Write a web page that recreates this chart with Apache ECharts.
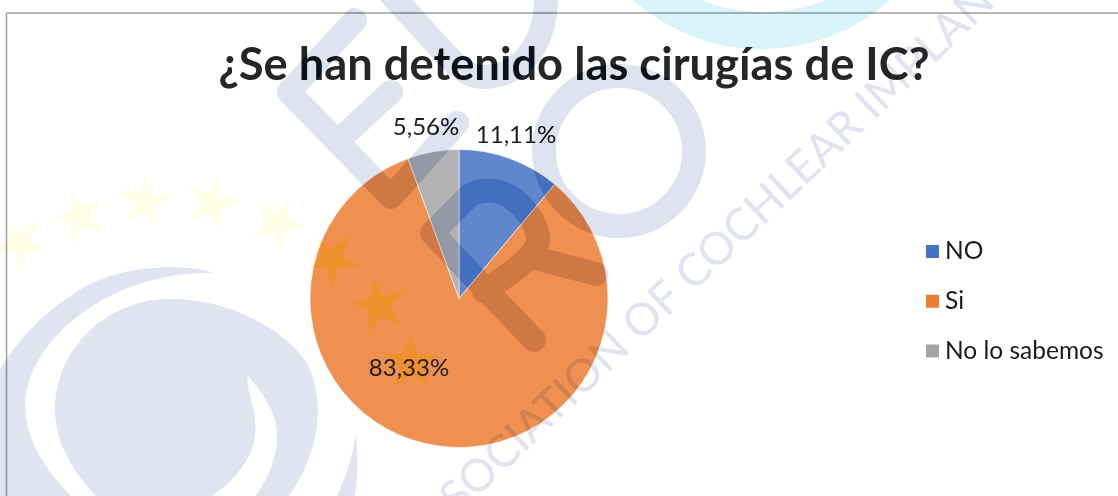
<!DOCTYPE html>
<html><head><meta charset="utf-8">
<style>html,body{margin:0;padding:0;background:#fff}#c{width:1118px;height:496px}</style>
<script src="https://cdn.jsdelivr.net/npm/echarts@6/dist/echarts.min.js"></script>
</head><body><div id="c"></div>
<script>
const chartTitle = '¿Se han detenido las cirugías de IC?';
const categories = ['NO', 'Si', 'No lo sabemos'];
const values = [11.11, 83.33, 5.56];
const colors = ['#4472C4', '#ED7D31', '#A5A5A5'];
const labelSpots = [[516, 135], [409, 368], [426, 127]];
const FONT = 'Lato, "Open Sans", sans-serif';

const chart = echarts.init(document.getElementById('c'), null, {renderer: 'canvas'});
chart.setOption({
  animation: false,
  backgroundColor: '#fff',
  title: {
    text: chartTitle, left: 569, top: 38, textAlign: 'center',
    textStyle: {fontFamily: FONT, fontWeight: 'bold', fontSize: 45.3, color: '#262626'}
  },
  legend: {
    orient: 'vertical', left: 924, top: 239, padding: 0, itemWidth: 15, itemHeight: 15, itemGap: 24.7,
    icon: 'rect', selectedMode: false,
    textStyle: {fontFamily: FONT, fontSize: 24.5, color: '#1a1a1a', padding: [0, 0, 0, 0]},
    data: categories.map(n => ({name: n, itemStyle: {opacity: 1}}))
  },
  series: [{
    type: 'pie', center: [459, 298.5], radius: [0, 149], startAngle: 90, clockwise: true,
    data: categories.map((n, i) => ({name: n, value: values[i],
      itemStyle: {color: colors[i], opacity: 0.85, borderColor: '#fff', borderWidth: 0.7}})),
    label: {
      show: true, position: 'outside', fontFamily: FONT, fontSize: 24, color: '#1f1f1f', opacity: 1,
      formatter: p => p.value.toFixed(2).replace('.', ',') + '%'
    },
    labelLine: {show: false},
    labelLayout: p => ({x: labelSpots[p.dataIndex][0], y: labelSpots[p.dataIndex][1], align: 'center', verticalAlign: 'middle'}),
    emphasis: {disabled: true}
  }],
  graphic: [
    {type: 'line', z: 90, shape: {x1: 6.5, y1: 13, x2: 1118, y2: 13}, style: {stroke: '#a0a0a0', lineWidth: 1.5}},
    {type: 'line', z: 90, shape: {x1: 6.5, y1: 13, x2: 6.5, y2: 496}, style: {stroke: '#a0a0a0', lineWidth: 1.5}}
  ]
});

// Background watermark, laid over the chart the way the reference shows it
const zr = chart.getZr();
const paint = {fill: '#E0E3F0', blend: 'multiply'};
const band = {fill: 'none', stroke: '#E2E5F1', lineWidth: 24, lineCap: 'round', lineJoin: 'round', blend: 'multiply'};
const burn = Object.assign({}, band, {stroke: '#E6EEF3', blend: 'color-burn'});
function add(d, style, z2) {
  const el = echarts.graphic.makePath(d, {style: style, z: 100, z2: z2 || 0, silent: true});
  zr.add(el);
}
function addBand(d, extra) {
  add(d, Object.assign({}, band, extra), 0);
  add(d, Object.assign({}, burn, extra), 1);
}
// E, U, R strokes
addBand('M355,20 L289,92 L391,197 L457,123 M339,140 L391,92');
addBand('M385,-12 L440,48 C460,70 470,77 482,77 C520,77 545,45 546,0 L540,-20');
addBand('M534,340 L432,233 L470,195 C500,180 530,205 538,235 C540,248 530,262 484,291 M535,258 L596,274');
// O ring
addBand('M544,151 A75,75 0 1 1 694,151 A75,75 0 1 1 544,151 Z', {lineCap: 'butt'});
// cyan arc at the top
add('M633,0 A192,192 0 0 0 890,0 L826,0 A166,166 0 0 1 701,0 Z', {fill: '#D9F3FB', blend: 'multiply'});
// swirl
add('M214,273 C180,262 110,265 71,296 C40,315 15,345 0,369 L0,500 L75,500 C45,470 25,440 25,403 C28,340 110,270 214,273 Z', paint);
add('M171,299 C230,299 285,330 307,363 C325,400 322,450 286,500 L100,500 C70,470 55,440 55,409 C55,350 105,299 171,299 Z', paint);
add('M248,376 C265,395 277,415 277,433 C278,460 265,485 252,500 L205,500 C240,480 258,450 255,423 C255,405 245,385 248,376 Z', {fill: '#fff'}, 1);
add('M356,434 C358,460 358,480 354,500 L335,500 C345,480 352,460 356,434 Z', paint);
// stars [cx, cy, rotation in degrees]
const stars = [[20,243,-35],[80,217,-20],[145,202,5],[212,203,15],[278,223,25],[332,259,35],[379,306,60],[411,363,0]];
stars.forEach(([cx, cy, rot]) => {
  let d = '';
  for (let i = 0; i < 10; i++) {
    const r = i % 2 ? 11 : 29, a = (rot + i * 36 - 90) * Math.PI / 180;
    d += (i ? 'L' : 'M') + (cx + r * Math.cos(a)).toFixed(1) + ',' + (cy + r * Math.sin(a)).toFixed(1);
  }
  d += 'Z';
  add(d, {fill: '#FFFFEA', blend: 'multiply'}, 2);
  add(d, {fill: '#FFFFDB', blend: 'color-burn'}, 3);
});
// watermark wording; the blend has to reach the text's inner spans
const wm = new echarts.graphic.Text({
  x: 408, y: 543, rotation: 43.5 * Math.PI / 180, z: 100, z2: 4, silent: true,
  style: {text: 'ASSOCIATION OF COCHLEAR IMPLANT', font: '45px Lato, sans-serif', fill: '#E0E3F0',
    verticalAlign: 'middle', align: 'left'}
});
const rebuild = wm._updateSubTexts;
if (rebuild) {
  wm._updateSubTexts = function () {
    rebuild.call(this);
    this.childrenRef().forEach(c => { c.style.blend = 'multiply'; });
  };
}
zr.add(wm);
</script></body></html>
